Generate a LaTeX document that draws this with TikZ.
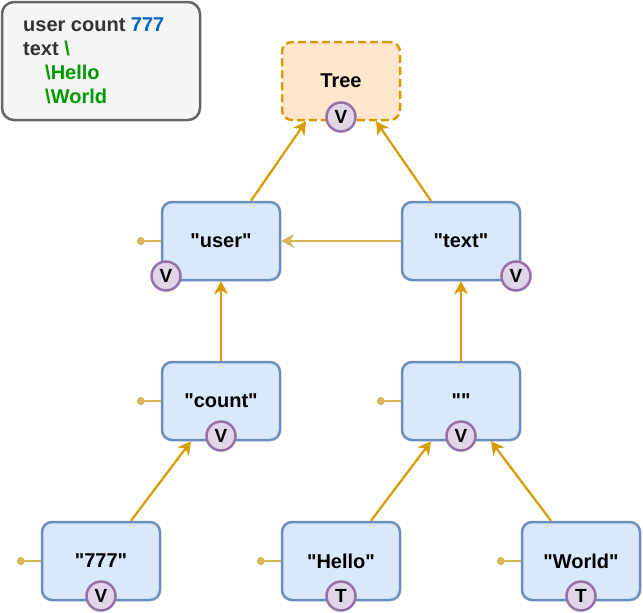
\documentclass[tikz,border=0pt]{standalone}
\usepackage{fontspec}
\setmainfont{Liberation Sans}[Ligatures=TeXOff]
\usetikzlibrary{arrows.meta,calc}
\definecolor{nodefill}{HTML}{DAE8FC}
\definecolor{nodedraw}{HTML}{6C8EBF}
\definecolor{treefill}{HTML}{FFE6CC}
\definecolor{treedraw}{HTML}{D79B00}
\definecolor{badgefill}{HTML}{E1D5E7}
\definecolor{badgedraw}{HTML}{9673A6}
\definecolor{arrowcol}{HTML}{D79B00}
\definecolor{stubcol}{HTML}{D6B656}
\definecolor{legfill}{HTML}{F5F5F5}
\definecolor{legdraw}{HTML}{666666}
\definecolor{legtext}{HTML}{333333}
\definecolor{numblue}{HTML}{0066CC}
\definecolor{codegreen}{HTML}{009900}
\begin{document}
\begin{tikzpicture}[x=1pt,y=-1pt,
  valbox/.style={draw=nodedraw, fill=nodefill, line width=2.5pt, rounded corners=10pt,
    minimum width=118pt, minimum height=78pt, inner sep=0pt,
    font=\fontsize{20}{24}\selectfont\bfseries},
  treebox/.style={valbox, draw=treedraw, fill=treefill, dash pattern=on 8pt off 4pt},
  badge/.style={circle, draw=badgedraw, fill=badgefill, line width=2.5pt,
    minimum size=29pt, inner sep=0pt, font=\fontsize{19}{20}\selectfont\bfseries},
  legbox/.style={draw=legdraw, fill=legfill, line width=2.5pt, rounded corners=12pt,
    minimum width=198pt, minimum height=118pt},
  arr/.style={draw=arrowcol, line width=2.2pt, -{Stealth[length=13pt,width=14pt,inset=4pt]}},
  harr/.style={arr, draw=stubcol},
  stub/.style={draw=stubcol, line width=2.2pt},
  stubdot/.style={fill=stubcol}
]
\useasboundingbox (0,0) rectangle (643,613);

% legend
\node[legbox] (legend) at (101,61) {};
\node[anchor=north west, inner sep=0pt, align=left, text=legtext,
      font=\fontsize{20}{24}\selectfont\bfseries] (legendtext) at (23,18)
  {user count \textcolor{numblue}{777}\\
   text \textcolor{codegreen}{\textbackslash}\\
   \hspace*{22pt}\textcolor{codegreen}{\textbackslash Hello}\\
   \hspace*{22pt}\textcolor{codegreen}{\textbackslash World}};

% nodes
\node[treebox] (tree) at (341,81) {\raisebox{-2pt}{Tree}};
\node[valbox] (user) at (221,241) {"user"};
\node[valbox] (text) at (461,241) {"text"};
\node[valbox] (count) at (221,401) {"count"};
\node[valbox] (empty) at (461,401) {""};
\node[valbox] (n777) at (101,561) {"777"};
\node[valbox] (hello) at (341,561) {"Hello"};
\node[valbox] (world) at (581,561) {"World"};

% badges
\node[badge] (btree) at (341,117) {V};
\node[badge] (buser) at (166,276) {V};
\node[badge] (btext) at (516,276) {V};
\node[badge] (bcount) at (221,436) {V};
\node[badge] (bempty) at (461,436) {V};
\node[badge] (b777) at (101,596) {V};
\node[badge] (bhello) at (341,596) {T};
\node[badge] (bworld) at (581,596) {T};

% stubs
\foreach \n in {user,count,empty,n777,hello,world}{
  \coordinate (\n dot) at ($(\n.west)+(-20,0)$);
  \draw[stub] (\n.west) -- (\n dot);
  \fill[stubdot] (\n dot) circle (4);
}

% arrows
\draw[arr] ([xshift=30pt]user.north) -- ([xshift=-35pt]tree.south);
\draw[arr] ([xshift=-30pt]text.north) -- ([xshift=35pt]tree.south);
\draw[harr] (text.west) -- (user.east);
\draw[arr] (count.north) -- (user.south);
\draw[arr] (empty.north) -- (text.south);
\draw[arr] ([xshift=30pt]n777.north) -- ([xshift=-30pt]count.south);
\draw[arr] ([xshift=30pt]hello.north) -- ([xshift=-30pt]empty.south);
\draw[arr] ([xshift=-30pt]world.north) -- ([xshift=30pt]empty.south);
\end{tikzpicture}
\end{document}
